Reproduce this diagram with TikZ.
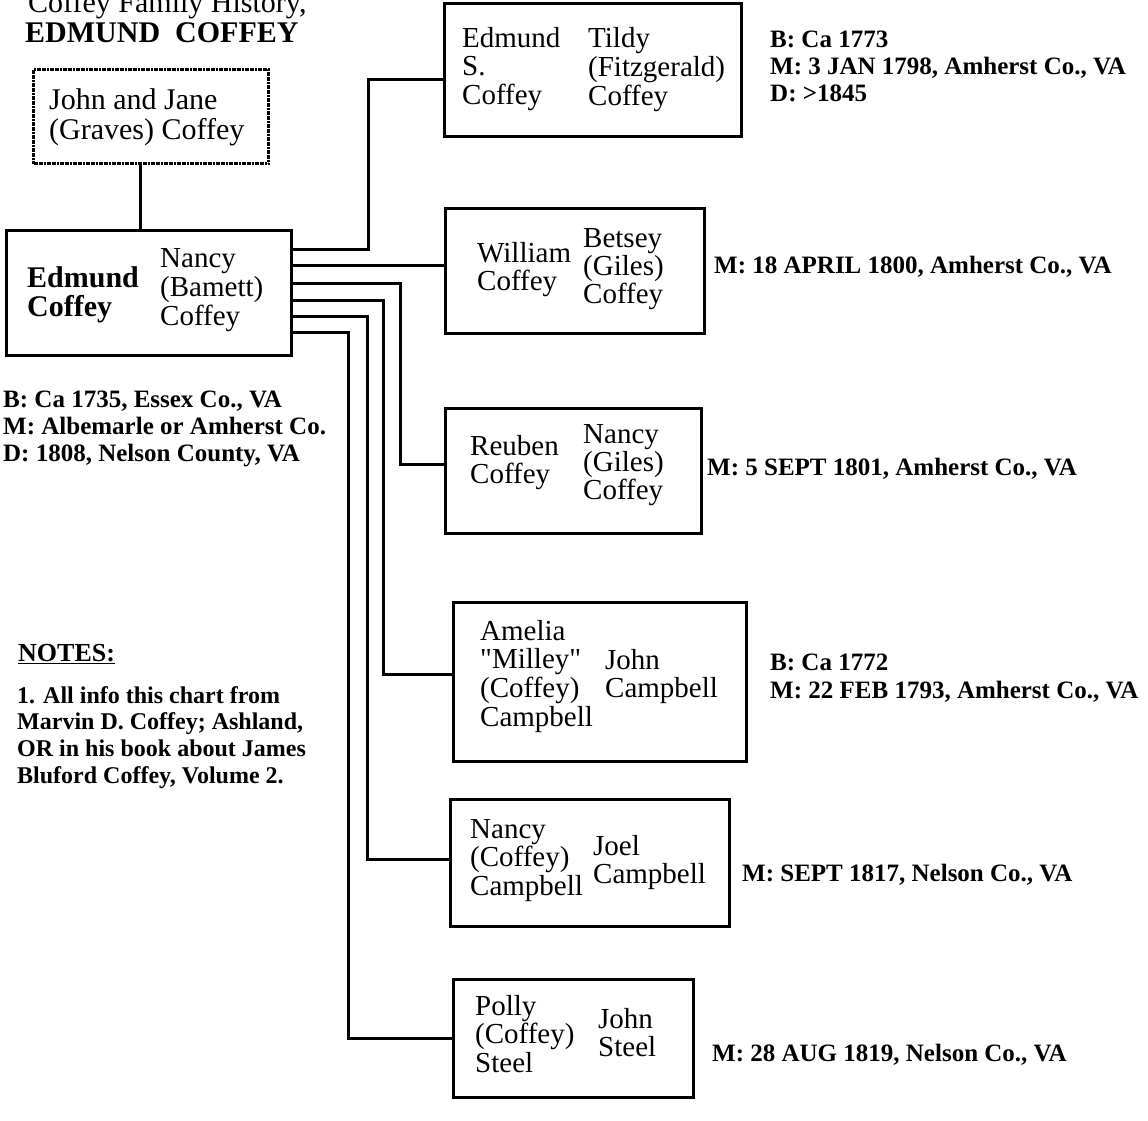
\documentclass[tikz,border=0pt]{standalone}
\usepackage{fontspec}
\setmainfont{Liberation Serif}
\newfontfamily\plainquote{Liberation Serif}
\usetikzlibrary{calc,positioning}

\newcommand{\namecol}[1]{\begin{tabular}[t]{@{}l@{}}#1\end{tabular}}
\newcommand{\sq}{{\plainquote\symbol{34}}}

\begin{document}
\begin{tikzpicture}[x=1pt,y=-1pt,
  box/.style={draw,line width=3pt,anchor=north west,inner sep=0pt},
  link/.style={line width=3pt},
  who/.style={anchor=base west,inner sep=0pt,font=\fontsize{29}{27.5}\selectfont},
  info/.style={anchor=base west,inner sep=0pt,font=\bfseries\fontsize{25}{27}\selectfont},
  note/.style={anchor=base west,inner sep=0pt,font=\bfseries\fontsize{24}{26.7}\selectfont}]

\fill[white] (0,0) rectangle (1148,1121);
\useasboundingbox (0,0) rectangle (1148,1121);

\node[anchor=base west,inner sep=0pt,font=\fontsize{30}{30}\selectfont] (ttl) at (28,13) {Coffey Family History,};
\node[anchor=base west,inner sep=0pt,font=\bfseries\fontsize{30}{30}\selectfont] (ttlname) at (25,43) {EDMUND\ \ COFFEY};

\node[box,minimum width=235pt,minimum height=94pt,dash pattern=on 2pt off 0.6pt] (jj) at (32,68) {};
\node[who,font=\fontsize{30}{28}\selectfont] (jjtxt) at (49,110) {\namecol{John and Jane\\(Graves) Coffey}};

\node[box,minimum width=285pt,minimum height=125pt] (ed) at (5,229) {};
\node[who,font=\bfseries\fontsize{30}{28}\selectfont] (edh) at (27,287) {\namecol{Edmund\\Coffey}};
\node[who,font=\fontsize{29}{29}\selectfont] (edw) at (160,267) {\namecol{Nancy\\(Bamett)\\Coffey}};
\node[info] (edinfo) at (3,407) {\namecol{B: Ca 1735, Essex Co., VA\\M: Albemarle or Amherst Co.\\D: 1808, Nelson County, VA}};

\node[note,font=\bfseries\fontsize{26}{26}\selectfont] (nothead) at (18,661) {\underline{NOTES:}};
\node[note] (nottxt) at (17,703) {\namecol{1. All info this chart from\\Marvin D. Coffey; Ashland,\\OR in his book about James\\Bluford Coffey, Volume 2.}};

\node[box,minimum width=297pt,minimum height=133pt] (es) at (443,2) {};
\node[who] (esh) at (462,48) {\namecol{Edmund\\S.\\Coffey}};
\node[who] (esw) at (588,48) {\namecol{Tildy\\(Fitzgerald)\\Coffey}};
\node[info] (esinfo) at (770,48) {\namecol{B: Ca 1773\\M: 3 JAN 1798, Amherst Co., VA\\D: >1845}};

\node[box,minimum width=259pt,minimum height=125pt] (wc) at (444,207) {};
\node[who,font=\fontsize{29}{26.5}\selectfont] (wch) at (477,262) {\namecol{William\\Coffey}};
\node[who,font=\fontsize{29}{26.5}\selectfont] (wcw) at (583,247) {\namecol{Betsey\\(Giles)\\Coffey}};
\node[info] (wcinfo) at (714,273) {M: 18 APRIL 1800, Amherst Co., VA};

\node[box,minimum width=256pt,minimum height=125pt] (rc) at (444,407) {};
\node[who,font=\fontsize{29}{26.5}\selectfont] (rch) at (470,455) {\namecol{Reuben\\Coffey}};
\node[who,font=\fontsize{29}{26.5}\selectfont] (rcw) at (583,443) {\namecol{Nancy\\(Giles)\\Coffey}};
\node[info] (rcinfo) at (707,475) {M: 5 SEPT 1801, Amherst Co., VA};

\node[box,minimum width=293pt,minimum height=159pt] (ac) at (452,601) {};
\node[who,font=\fontsize{29}{28.7}\selectfont] (acw) at (480,640) {\namecol{Amelia\\\sq Milley\sq\\(Coffey)\\Campbell}};
\node[who,font=\fontsize{29}{28.7}\selectfont] (ach) at (605,669) {\namecol{John\\Campbell}};
\node[info,font=\bfseries\fontsize{25}{28}\selectfont] (acinfo) at (770,670) {\namecol{B: Ca 1772\\M: 22 FEB 1793, Amherst Co., VA}};

\node[box,minimum width=279pt,minimum height=127pt] (nc) at (449,798) {};
\node[who,font=\fontsize{29}{28.5}\selectfont] (ncw) at (470,838) {\namecol{Nancy\\(Coffey)\\Campbell}};
\node[who,font=\fontsize{29}{28.5}\selectfont] (nch) at (593,855) {\namecol{Joel\\Campbell}};
\node[info] (ncinfo) at (742,881) {M: SEPT 1817, Nelson Co., VA};

\node[box,minimum width=240pt,minimum height=118pt] (pc) at (452,978) {};
\node[who,font=\fontsize{29}{28.5}\selectfont] (pcw) at (475,1015) {\namecol{Polly\\(Coffey)\\Steel}};
\node[who,font=\fontsize{29}{28.5}\selectfont] (pch) at (598,1028) {\namecol{John\\Steel}};
\node[info] (pcinfo) at (712,1061) {M: 28 AUG 1819, Nelson Co., VA};

\draw[link] (jj.south -| 140,0) -- (ed.north -| 140,0);

\draw[link] (ed.east |- 0,249) -- (368,249) |- ([yshift=-10pt]es.west);
\draw[link] (ed.east |- 0,265) -- (wc.west |- 0,265);
\draw[link] (ed.east |- 0,283) -- (400,283) |- ([yshift=7pt]rc.west);
\draw[link] (ed.east |- 0,300) -- (383,300) |- ([yshift=8pt]ac.west);
\draw[link] (ed.east |- 0,316) -- (367,316) |- ([yshift=4pt]nc.west);
\draw[link] (ed.east |- 0,332) -- (348,332) |- (pc.west);
\end{tikzpicture}
\end{document}
